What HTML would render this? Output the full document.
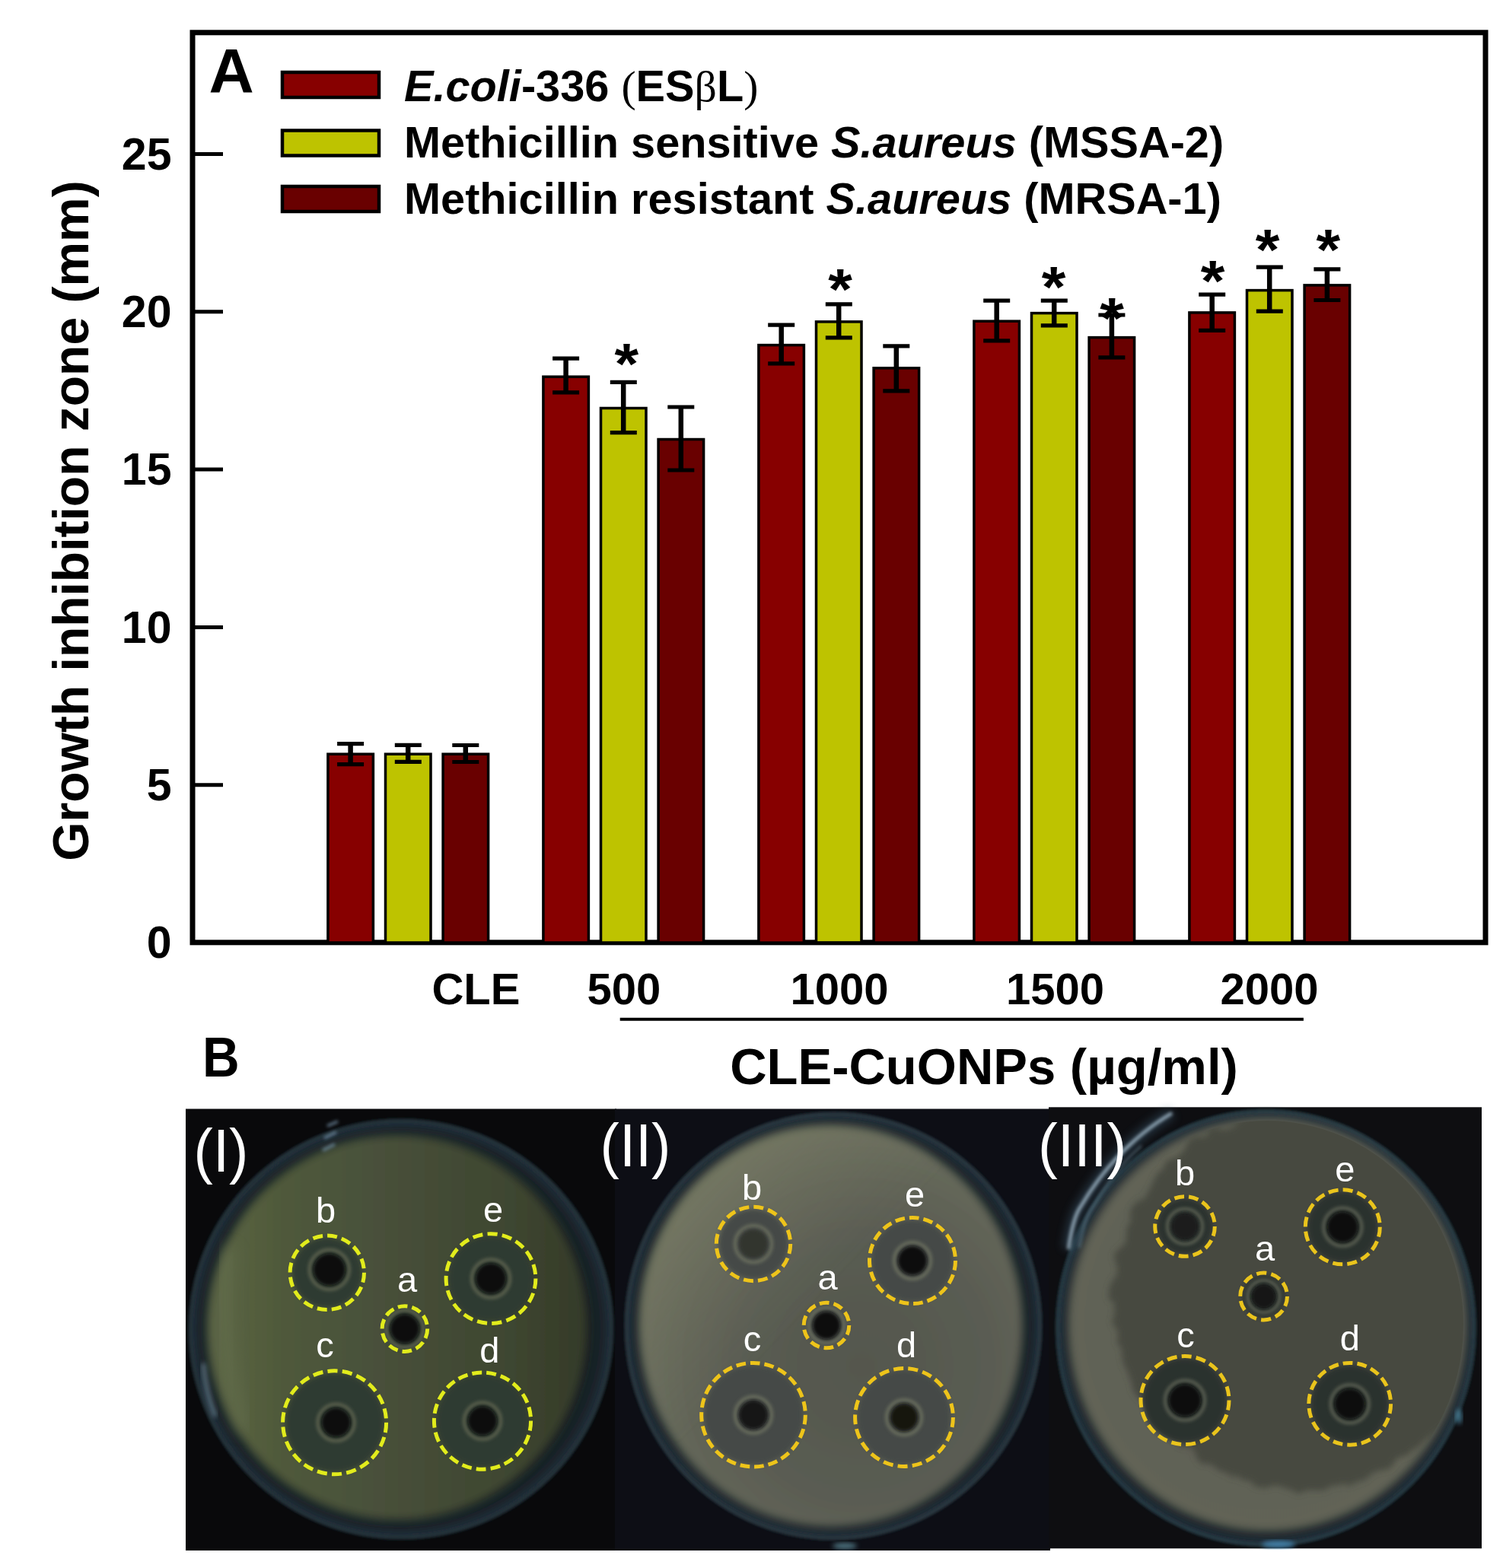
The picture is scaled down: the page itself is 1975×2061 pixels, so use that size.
<!DOCTYPE html>
<html><head><meta charset="utf-8"><title>Figure</title>
<style>
html,body{margin:0;padding:0;background:#fff;}
svg{display:block;}
text{font-family:"Liberation Sans",Arial,sans-serif;font-weight:bold;fill:#000;}
.tk{font-size:59px;text-anchor:end;}
.st{font-size:76px;text-anchor:middle;}
.big{font-size:82px;}
.lg{font-size:57.7px;}
.sym{font-family:"Liberation Serif",serif;font-weight:normal;}
.yt{font-size:66px;text-anchor:middle;}
.xl{font-size:58px;text-anchor:middle;}
.xt{font-size:67px;text-anchor:middle;}
.bl{font-size:74px;}
.pl{font-family:"Liberation Sans",sans-serif;font-weight:normal;fill:#fff;}
.pll{font-size:47px;text-anchor:middle;}
.prn{font-size:76px;}
</style></head>
<body>
<svg width="1975" height="2061" viewBox="0 0 1975 2061">
<rect width="1975" height="2061" fill="#fff"/>
<rect x="253" y="42.8" width="1699" height="1196" fill="none" stroke="#000" stroke-width="7"/>
<text x="225.5" y="1259.3" class="tk">0</text>
<line x1="253" y1="1031.7" x2="293" y2="1031.7" stroke="#000" stroke-width="5"/>
<text x="225.5" y="1052.0" class="tk">5</text>
<line x1="253" y1="824.4" x2="293" y2="824.4" stroke="#000" stroke-width="5"/>
<text x="225.5" y="844.7" class="tk">10</text>
<line x1="253" y1="617.1" x2="293" y2="617.1" stroke="#000" stroke-width="5"/>
<text x="225.5" y="637.4" class="tk">15</text>
<line x1="253" y1="409.8" x2="293" y2="409.8" stroke="#000" stroke-width="5"/>
<text x="225.5" y="430.1" class="tk">20</text>
<line x1="253" y1="202.5" x2="293" y2="202.5" stroke="#000" stroke-width="5"/>
<text x="225.5" y="222.8" class="tk">25</text>
<rect x="430.9" y="991.2" width="59.5" height="247.8" fill="#870000" stroke="#000" stroke-width="3.5"/>
<rect x="506.5" y="991.2" width="59.5" height="247.8" fill="#bec300" stroke="#000" stroke-width="3.5"/>
<rect x="582.1" y="991.2" width="59.5" height="247.8" fill="#690000" stroke="#000" stroke-width="3.5"/>
<rect x="713.9" y="495.2" width="59.5" height="743.8" fill="#870000" stroke="#000" stroke-width="3.5"/>
<rect x="789.5" y="536.5" width="59.5" height="702.5" fill="#bec300" stroke="#000" stroke-width="3.5"/>
<rect x="865.1" y="577.5" width="59.5" height="661.5" fill="#690000" stroke="#000" stroke-width="3.5"/>
<rect x="996.9" y="453.6" width="59.5" height="785.5" fill="#870000" stroke="#000" stroke-width="3.5"/>
<rect x="1072.5" y="422.9" width="59.5" height="816.0" fill="#bec300" stroke="#000" stroke-width="3.5"/>
<rect x="1148.1" y="483.8" width="59.5" height="755.2" fill="#690000" stroke="#000" stroke-width="3.5"/>
<rect x="1279.9" y="422.2" width="59.5" height="816.8" fill="#870000" stroke="#000" stroke-width="3.5"/>
<rect x="1355.5" y="411.6" width="59.5" height="827.4" fill="#bec300" stroke="#000" stroke-width="3.5"/>
<rect x="1431.1" y="443.6" width="59.5" height="795.5" fill="#690000" stroke="#000" stroke-width="3.5"/>
<rect x="1562.9" y="410.9" width="59.5" height="828.1" fill="#870000" stroke="#000" stroke-width="3.5"/>
<rect x="1638.5" y="381.6" width="59.5" height="857.5" fill="#bec300" stroke="#000" stroke-width="3.5"/>
<rect x="1714.1" y="374.9" width="59.5" height="864.0" fill="#690000" stroke="#000" stroke-width="3.5"/>
<path d="M443.1 977.6H478.1M443.1 1004.7H478.1" stroke="#000" stroke-width="5.2" fill="none"/><path d="M460.6 977.6V1004.7" stroke="#000" stroke-width="6.5"/>
<path d="M518.8 979.4H553.8M518.8 1001.4H553.8" stroke="#000" stroke-width="5.2" fill="none"/><path d="M536.2 979.4V1001.4" stroke="#000" stroke-width="6.5"/>
<path d="M594.3 979.5H629.3M594.3 1001.5H629.3" stroke="#000" stroke-width="5.2" fill="none"/><path d="M611.8 979.5V1001.5" stroke="#000" stroke-width="6.5"/>
<path d="M726.1 471.1H761.1M726.1 515.8H761.1" stroke="#000" stroke-width="5.2" fill="none"/><path d="M743.6 471.1V515.8" stroke="#000" stroke-width="6.5"/>
<path d="M801.8 502.3H836.8M801.8 568.6H836.8" stroke="#000" stroke-width="5.2" fill="none"/><path d="M819.2 502.3V568.6" stroke="#000" stroke-width="6.5"/>
<path d="M877.3 535.0H912.3M877.3 618.0H912.3" stroke="#000" stroke-width="5.2" fill="none"/><path d="M894.8 535.0V618.0" stroke="#000" stroke-width="6.5"/>
<path d="M1009.2 427.2H1044.2M1009.2 477.8H1044.2" stroke="#000" stroke-width="5.2" fill="none"/><path d="M1026.7 427.2V477.8" stroke="#000" stroke-width="6.5"/>
<path d="M1084.8 399.9H1119.8M1084.8 443.8H1119.8" stroke="#000" stroke-width="5.2" fill="none"/><path d="M1102.2 399.9V443.8" stroke="#000" stroke-width="6.5"/>
<path d="M1160.3 454.8H1195.3M1160.3 513.9H1195.3" stroke="#000" stroke-width="5.2" fill="none"/><path d="M1177.8 454.8V513.9" stroke="#000" stroke-width="6.5"/>
<path d="M1292.2 395.2H1327.2M1292.2 447.8H1327.2" stroke="#000" stroke-width="5.2" fill="none"/><path d="M1309.7 395.2V447.8" stroke="#000" stroke-width="6.5"/>
<path d="M1367.8 395.2H1402.8M1367.8 427.8H1402.8" stroke="#000" stroke-width="5.2" fill="none"/><path d="M1385.2 395.2V427.8" stroke="#000" stroke-width="6.5"/>
<path d="M1443.4 414.0H1478.4M1443.4 469.8H1478.4" stroke="#000" stroke-width="5.2" fill="none"/><path d="M1460.9 414.0V469.8" stroke="#000" stroke-width="6.5"/>
<path d="M1575.2 387.1H1610.2M1575.2 434.4H1610.2" stroke="#000" stroke-width="5.2" fill="none"/><path d="M1592.7 387.1V434.4" stroke="#000" stroke-width="6.5"/>
<path d="M1650.8 351.2H1685.8M1650.8 409.1H1685.8" stroke="#000" stroke-width="5.2" fill="none"/><path d="M1668.2 351.2V409.1" stroke="#000" stroke-width="6.5"/>
<path d="M1726.4 353.9H1761.4M1726.4 394.5H1761.4" stroke="#000" stroke-width="5.2" fill="none"/><path d="M1743.9 353.9V394.5" stroke="#000" stroke-width="6.5"/>
<text transform="translate(823.3,503.5) scale(1.07,1)" class="st">*</text>
<text transform="translate(1104.0,405.6) scale(1.07,1)" class="st">*</text>
<text transform="translate(1384.5,402.6) scale(1.07,1)" class="st">*</text>
<text transform="translate(1461.0,443.5) scale(1.07,1)" class="st">*</text>
<text transform="translate(1593.5,394.5) scale(1.07,1)" class="st">*</text>
<text transform="translate(1665.5,354.2) scale(1.07,1)" class="st">*</text>
<text transform="translate(1745.3,354.2) scale(1.07,1)" class="st">*</text>
<rect x="371" y="95.0" width="127" height="33" fill="#870000" stroke="#000" stroke-width="4.5"/>
<rect x="371" y="171.5" width="127" height="33" fill="#bec300" stroke="#000" stroke-width="4.5"/>
<rect x="371" y="245.0" width="127" height="33" fill="#690000" stroke="#000" stroke-width="4.5"/>
<text x="274.5" y="120.5" class="big">A</text>
<text x="531" y="133.2" class="lg"><tspan font-style="italic">E.coli</tspan>-336 <tspan class="sym">(</tspan>ES<tspan class="sym">β</tspan>L<tspan class="sym">)</tspan></text>
<text x="531" y="207.2" class="lg">Methicillin sensitive <tspan font-style="italic">S.aureus</tspan> (MSSA-2)</text>
<text x="531" y="281" class="lg">Methicillin resistant <tspan font-style="italic">S.aureus</tspan> (MRSA-1)</text>
<text transform="translate(116,684.5) rotate(-90)" class="yt">Growth inhibition zone (mm)</text>
<text x="625.4" y="1320" class="xl">CLE</text>
<text x="819.9" y="1320" class="xl">500</text>
<text x="1102.9" y="1320" class="xl">1000</text>
<text x="1386.4" y="1320" class="xl">1500</text>
<text x="1667.9" y="1320" class="xl">2000</text>
<line x1="814.7" y1="1339.7" x2="1712.9" y2="1339.7" stroke="#000" stroke-width="4"/>
<text x="1293" y="1424.5" class="xt">CLE-CuONPs (µg/ml)</text>
<text x="266" y="1415.5" class="bl" transform="translate(266,0) scale(0.91,1) translate(-266,0)">B</text>
<defs>
<filter id="bl2" x="-20%" y="-20%" width="140%" height="140%"><feGaussianBlur stdDeviation="2"/></filter>
<filter id="bl3" x="-20%" y="-20%" width="140%" height="140%"><feGaussianBlur stdDeviation="3"/></filter>
<filter id="bl6" x="-20%" y="-20%" width="140%" height="140%"><feGaussianBlur stdDeviation="6"/></filter>
<filter id="bl10" x="-30%" y="-30%" width="160%" height="160%"><feGaussianBlur stdDeviation="10"/></filter>
<filter id="wavy" x="-20%" y="-20%" width="140%" height="140%">
  <feTurbulence type="fractalNoise" baseFrequency="0.035" numOctaves="2" seed="7" result="n"/>
  <feDisplacementMap in="SourceGraphic" in2="n" scale="26" xChannelSelector="R" yChannelSelector="G" result="d"/>
  <feGaussianBlur in="d" stdDeviation="4"/>
</filter>
<linearGradient id="ag1" x1="0" y1="0" x2="1" y2="0">
  <stop offset="0" stop-color="#5c6646"/><stop offset="0.18" stop-color="#505a3a"/><stop offset="0.45" stop-color="#48503a"/><stop offset="0.8" stop-color="#3e4630"/><stop offset="1" stop-color="#343a28"/>
</linearGradient>
<radialGradient id="ag2" cx="0.58" cy="0.6" r="0.62">
  <stop offset="0" stop-color="#54574e"/><stop offset="0.55" stop-color="#5a5c52"/><stop offset="0.85" stop-color="#65685a"/><stop offset="1" stop-color="#6c705c"/>
</radialGradient>
<linearGradient id="ag2b" x1="0" y1="0" x2="1" y2="1">
  <stop offset="0" stop-color="#7a7c66" stop-opacity="0.75"/><stop offset="0.45" stop-color="#7a7c66" stop-opacity="0"/>
</linearGradient>
<radialGradient id="ag3" cx="0.5" cy="0.5" r="0.5">
  <stop offset="0" stop-color="#5c5d52"/><stop offset="1" stop-color="#626357"/>
</radialGradient>
<radialGradient id="rimg" cx="0.5" cy="0.5" r="0.5">
  <stop offset="0.86" stop-color="#161c20"/><stop offset="0.95" stop-color="#1a242a"/><stop offset="0.985" stop-color="#22303a"/><stop offset="1" stop-color="#0e1418"/>
</radialGradient>
</defs>
<rect x="244" y="1457.5" width="566" height="580.5" fill="#09090b"/>
<rect x="808" y="1457.5" width="572" height="580.5" fill="#0d0e15"/>
<rect x="1378" y="1455.3" width="569" height="580" fill="#0e0e11"/>
<ellipse cx="527" cy="1747" rx="279" ry="276" fill="url(#rimg)" filter="url(#bl2)"/>
<ellipse cx="527" cy="1747" rx="277" ry="274" fill="none" stroke="#2c3c44" stroke-width="3" filter="url(#bl2)"/>
<ellipse cx="522" cy="1745" rx="250" ry="253" fill="url(#ag1)" filter="url(#bl6)"/>
<path d="M300 1640 Q285 1760 320 1880" stroke="#6a7452" stroke-width="18" fill="none" opacity="0.5" filter="url(#bl10)"/>
<circle cx="429.8" cy="1672.8" r="45.7" fill="#2f3a33" filter="url(#bl3)"/>
<circle cx="432.8" cy="1668.8" r="26" fill="none" stroke="#5e6450" stroke-width="4" filter="url(#bl2)"/>
<circle cx="432.8" cy="1668.8" r="21" fill="#0c0e0a" filter="url(#bl2)"/>
<circle cx="429.8" cy="1672.8" r="48.7" fill="none" stroke="#e2ec1c" stroke-width="5" stroke-dasharray="13.00 6.12"/>
<text x="428" y="1606.8" class="pl pll">b</text>
<circle cx="645" cy="1680.6" r="55.9" fill="#2f3a33" filter="url(#bl3)"/>
<circle cx="645" cy="1680.6" r="25" fill="none" stroke="#5e6450" stroke-width="4" filter="url(#bl2)"/>
<circle cx="645" cy="1680.6" r="20" fill="#0c0e0a" filter="url(#bl2)"/>
<circle cx="645" cy="1680.6" r="58.9" fill="none" stroke="#e2ec1c" stroke-width="5" stroke-dasharray="13.24 6.23"/>
<text x="648" y="1606" class="pl pll">e</text>
<circle cx="531.9" cy="1746.6" r="26.8" fill="#2f3a33" filter="url(#bl3)"/>
<circle cx="531.9" cy="1746.6" r="24" fill="none" stroke="#5e6450" stroke-width="4" filter="url(#bl2)"/>
<circle cx="531.9" cy="1746.6" r="19" fill="#0c0e0a" filter="url(#bl2)"/>
<circle cx="531.9" cy="1746.6" r="29.8" fill="none" stroke="#e2ec1c" stroke-width="5" stroke-dasharray="12.73 5.99"/>
<text x="535" y="1698" class="pl pll">a</text>
<circle cx="439.6" cy="1869.8" r="65.0" fill="#2f3a33" filter="url(#bl3)"/>
<circle cx="441.6" cy="1869.8" r="24" fill="none" stroke="#5e6450" stroke-width="4" filter="url(#bl2)"/>
<circle cx="441.6" cy="1869.8" r="19" fill="#0c0e0a" filter="url(#bl2)"/>
<circle cx="439.6" cy="1869.8" r="68" fill="none" stroke="#e2ec1c" stroke-width="5" stroke-dasharray="13.21 6.21"/>
<text x="427" y="1784" class="pl pll">c</text>
<circle cx="634" cy="1867.6" r="60.6" fill="#2f3a33" filter="url(#bl3)"/>
<circle cx="634" cy="1867.6" r="24" fill="none" stroke="#5e6450" stroke-width="4" filter="url(#bl2)"/>
<circle cx="634" cy="1867.6" r="19" fill="#0c0e0a" filter="url(#bl2)"/>
<circle cx="634" cy="1867.6" r="63.6" fill="none" stroke="#e2ec1c" stroke-width="5" stroke-dasharray="12.94 6.09"/>
<text x="643.4" y="1790.6" class="pl pll">d</text>
<ellipse cx="1095" cy="1743" rx="274" ry="281" fill="url(#rimg)" filter="url(#bl2)"/>
<ellipse cx="1095" cy="1743" rx="272" ry="279" fill="none" stroke="#34444e" stroke-width="3" filter="url(#bl2)"/>
<ellipse cx="1092" cy="1743" rx="252" ry="264" fill="url(#ag2)" filter="url(#bl6)"/>
<ellipse cx="1092" cy="1743" rx="252" ry="264" fill="url(#ag2b)" filter="url(#bl6)"/>
<circle cx="990" cy="1635" r="45.7" fill="#454a46" filter="url(#bl3)"/>
<circle cx="990" cy="1635" r="24" fill="none" stroke="#6c705e" stroke-width="4" filter="url(#bl2)"/>
<circle cx="990" cy="1635" r="19" fill="#33362f" filter="url(#bl2)"/>
<circle cx="990" cy="1635" r="48.7" fill="none" stroke="#eec41a" stroke-width="5" stroke-dasharray="13.00 6.12"/>
<text x="988" y="1577" class="pl pll">b</text>
<circle cx="1199" cy="1657" r="53.5" fill="#454a46" filter="url(#bl3)"/>
<circle cx="1199" cy="1657" r="24" fill="none" stroke="#6c705e" stroke-width="4" filter="url(#bl2)"/>
<circle cx="1199" cy="1657" r="19" fill="#0f100e" filter="url(#bl2)"/>
<circle cx="1199" cy="1657" r="56.5" fill="none" stroke="#eec41a" stroke-width="5" stroke-dasharray="12.71 5.98"/>
<text x="1202" y="1586" class="pl pll">e</text>
<circle cx="1086" cy="1742" r="26.8" fill="#454a46" filter="url(#bl3)"/>
<circle cx="1086" cy="1742" r="23" fill="none" stroke="#6c705e" stroke-width="4" filter="url(#bl2)"/>
<circle cx="1086" cy="1742" r="18" fill="#0c0d0b" filter="url(#bl2)"/>
<circle cx="1086" cy="1742" r="29.8" fill="none" stroke="#eec41a" stroke-width="5" stroke-dasharray="12.73 5.99"/>
<text x="1087.5" y="1695" class="pl pll">a</text>
<circle cx="990" cy="1859.7" r="65.3" fill="#454a46" filter="url(#bl3)"/>
<circle cx="990" cy="1859.7" r="24" fill="none" stroke="#6c705e" stroke-width="4" filter="url(#bl2)"/>
<circle cx="990" cy="1859.7" r="19" fill="#151613" filter="url(#bl2)"/>
<circle cx="990" cy="1859.7" r="68.3" fill="none" stroke="#eec41a" stroke-width="5" stroke-dasharray="12.69 5.97"/>
<text x="988.5" y="1776" class="pl pll">c</text>
<circle cx="1188" cy="1863" r="61.4" fill="#454a46" filter="url(#bl3)"/>
<circle cx="1188" cy="1863" r="23" fill="none" stroke="#6c705e" stroke-width="4" filter="url(#bl2)"/>
<circle cx="1188" cy="1863" r="18" fill="#121310" filter="url(#bl2)"/>
<circle cx="1188" cy="1863" r="64.4" fill="none" stroke="#eec41a" stroke-width="5" stroke-dasharray="13.10 6.17"/>
<text x="1191" y="1784" class="pl pll">d</text>
<ellipse cx="1663.5" cy="1745.5" rx="276" ry="287" fill="url(#rimg)" filter="url(#bl2)"/>
<ellipse cx="1663.5" cy="1745.5" rx="274" ry="285" fill="none" stroke="#2e4a54" stroke-width="3" filter="url(#bl2)"/>
<ellipse cx="1665" cy="1741" rx="262" ry="272" fill="url(#ag3)" filter="url(#bl6)"/>
<clipPath id="cp3"><ellipse cx="1665" cy="1741" rx="258" ry="268"/></clipPath>
<g clip-path="url(#cp3)"><ellipse cx="1710" cy="1706" rx="248" ry="250" fill="#47493f" filter="url(#wavy)"/></g>
<circle cx="1557" cy="1612" r="36.3" fill="#2c302e" filter="url(#bl3)"/>
<circle cx="1557" cy="1612" r="23" fill="none" stroke="#5c6052" stroke-width="4" filter="url(#bl2)"/>
<circle cx="1557" cy="1612" r="18" fill="#1a1d1c" filter="url(#bl2)"/>
<circle cx="1557" cy="1612" r="39.3" fill="none" stroke="#eac41c" stroke-width="5" stroke-dasharray="12.92 6.08"/>
<text x="1557" y="1557.8" class="pl pll">b</text>
<circle cx="1764.3" cy="1612.8" r="46.0" fill="#2c302e" filter="url(#bl3)"/>
<circle cx="1764.3" cy="1612.8" r="25" fill="none" stroke="#5c6052" stroke-width="4" filter="url(#bl2)"/>
<circle cx="1764.3" cy="1612.8" r="20" fill="#0e0f0d" filter="url(#bl2)"/>
<circle cx="1764.3" cy="1612.8" r="49" fill="none" stroke="#eac41c" stroke-width="5" stroke-dasharray="13.08 6.16"/>
<text x="1767.4" y="1553" class="pl pll">e</text>
<circle cx="1660.6" cy="1704" r="27.9" fill="#2c302e" filter="url(#bl3)"/>
<circle cx="1660.6" cy="1704" r="21" fill="none" stroke="#5c6052" stroke-width="4" filter="url(#bl2)"/>
<circle cx="1660.6" cy="1704" r="16" fill="#141614" filter="url(#bl2)"/>
<circle cx="1660.6" cy="1704" r="30.9" fill="none" stroke="#eac41c" stroke-width="5" stroke-dasharray="13.20 6.21"/>
<text x="1662" y="1656.8" class="pl pll">a</text>
<circle cx="1557" cy="1840.6" r="55.0" fill="#2c302e" filter="url(#bl3)"/>
<circle cx="1557" cy="1840.6" r="26" fill="none" stroke="#5c6052" stroke-width="4" filter="url(#bl2)"/>
<circle cx="1557" cy="1840.6" r="21" fill="#0c0d0b" filter="url(#bl2)"/>
<circle cx="1557" cy="1840.6" r="58" fill="none" stroke="#eac41c" stroke-width="5" stroke-dasharray="13.04 6.14"/>
<text x="1558" y="1771.4" class="pl pll">c</text>
<circle cx="1773.7" cy="1845.3" r="50.9" fill="#2c302e" filter="url(#bl3)"/>
<circle cx="1773.7" cy="1845.3" r="25" fill="none" stroke="#5c6052" stroke-width="4" filter="url(#bl2)"/>
<circle cx="1773.7" cy="1845.3" r="20" fill="#0d0e0c" filter="url(#bl2)"/>
<circle cx="1773.7" cy="1845.3" r="53.9" fill="none" stroke="#eac41c" stroke-width="5" stroke-dasharray="12.79 6.02"/>
<text x="1773.7" y="1774.6" class="pl pll">d</text>
<ellipse cx="1110" cy="2032" rx="16" ry="4" fill="#6aa0b0" opacity="0.7" filter="url(#bl3)"/>
<ellipse cx="1680" cy="2030" rx="22" ry="5" fill="#4a90c0" opacity="0.8" filter="url(#bl3)"/>
<ellipse cx="1917" cy="1862" rx="4" ry="10" fill="#5aa0c0" opacity="0.7" filter="url(#bl3)"/>
<path d="M1404 1642 Q1410 1600 1420 1586 Q1450 1535 1492 1498 Q1515 1478 1540 1463" stroke="#3a5a70" stroke-width="16" fill="none" opacity="0.45" filter="url(#bl6)"/>
<path d="M1404 1642 Q1410 1600 1420 1586 Q1450 1535 1492 1498 Q1515 1478 1540 1463" stroke="#b0c8d8" stroke-width="4" fill="none" opacity="0.85" filter="url(#bl2)"/>
<path d="M1418 1640 Q1425 1600 1436 1586 Q1462 1540 1500 1506" stroke="#6a8898" stroke-width="3" fill="none" opacity="0.6" filter="url(#bl2)"/>
<path d="M267 1792 Q270 1830 283 1862" stroke="#7a98a8" stroke-width="5" fill="none" opacity="0.7" filter="url(#bl3)"/>
<path d="M424 1512 L440 1504 M426 1496 L442 1488 M430 1480 L444 1474" stroke="#7a98b0" stroke-width="4" fill="none" opacity="0.7" filter="url(#bl2)"/>
<text transform="translate(254.6,1540) scale(1,1.04)" class="pl prn">(I)</text>
<text transform="translate(788.6,1532.7) scale(1,1.06)" class="pl prn">(II)</text>
<text transform="translate(1364,1532.8) scale(1.02,1.06)" class="pl prn">(III)</text>
</svg>
</body></html>
